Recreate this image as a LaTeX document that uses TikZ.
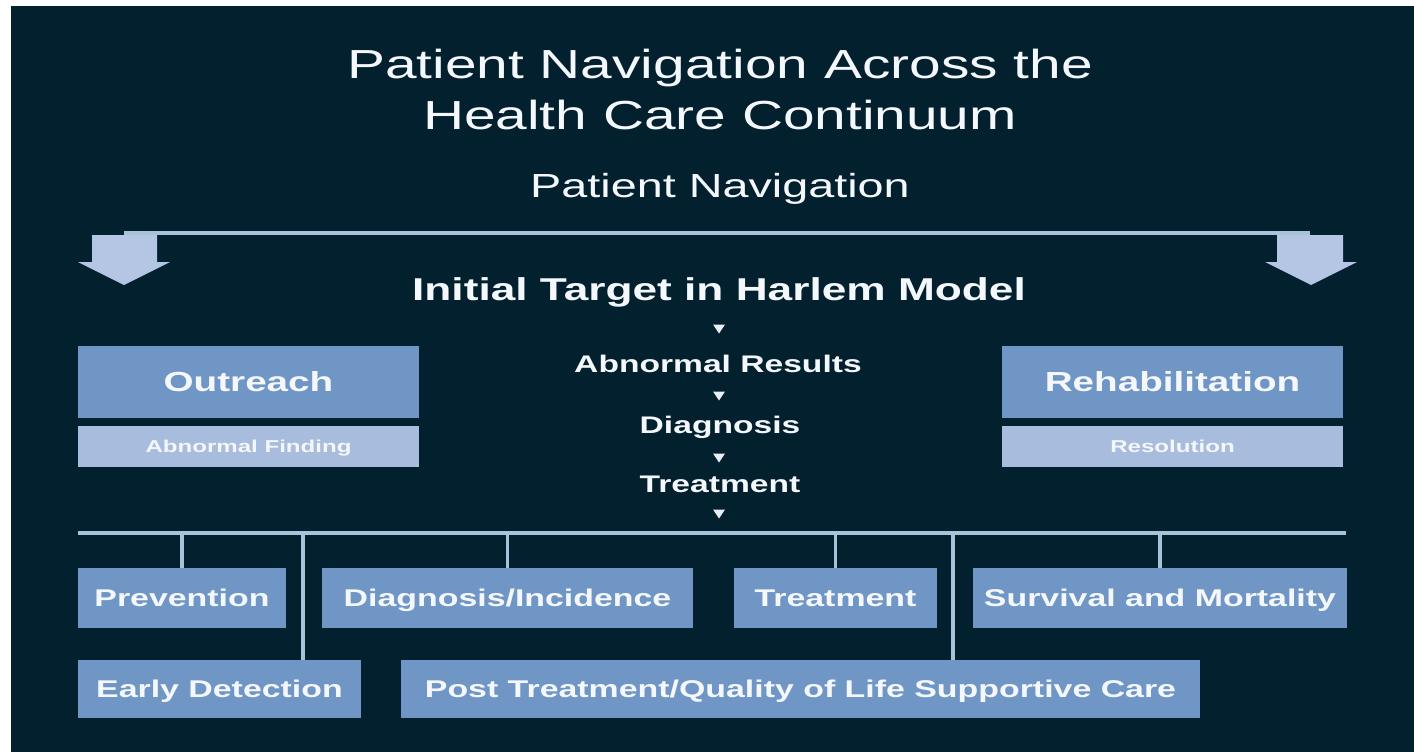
\documentclass[tikz,border=0pt]{standalone}
\usepackage{fontspec}
\setmainfont{Liberation Sans}[FakeStretch=1.4]
\begin{document}
\definecolor{bgc}{HTML}{02202E}
\definecolor{mainbox}{HTML}{7096C6}
\definecolor{subbox}{HTML}{A8BCDD}
\definecolor{linec}{HTML}{A9C2DC}
\definecolor{arrowc}{HTML}{B4C6E3}
\definecolor{txtc}{HTML}{F4F7FB}
\begin{tikzpicture}[x=1pt,y=-1pt,
  every node/.style={inner sep=0pt, outer sep=0pt, text=txtc},
  bigtitle/.style={anchor=base, font=\fontsize{40.6}{49}\selectfont},
  subtitle/.style={anchor=base, font=\fontsize{33.4}{40}\selectfont},
  steptext/.style={anchor=base, font=\fontsize{24}{28}\selectfont\bfseries},
  headbox/.style={fill=mainbox, minimum width=341pt, minimum height=72pt,
    text height=19.8pt, text depth=0pt, font=\fontsize{27.6}{32}\selectfont\bfseries},
  notebox/.style={fill=subbox, minimum width=341pt, minimum height=41pt,
    text height=12.4pt, text depth=0pt, font=\fontsize{17.2}{20}\selectfont\bfseries},
  stagebox/.style={fill=mainbox, minimum height=60pt,
    text height=17.2pt, text depth=0pt, font=\fontsize{24.2}{28}\selectfont\bfseries},
  bus/.style={draw=linec, line width=4pt},
  tick/.style={draw=linec, line width=3.5pt},
  downtri/.pic={\fill[txtc!85!linec] (-6,-4.5) -- (6,-4.5) -- (0,4.5) -- cycle;}
]
% page and dark panel
\fill[white] (0,0) rectangle (1414,752);
\fill[bgc] (11,6) rectangle (1414,752);

% headings
\node[bigtitle] (t1) at (720,79) {Patient Navigation Across the};
\node[bigtitle] (t2) at (720,129) {Health Care Continuum};
\node[subtitle] (t3) at (720,197) {Patient Navigation};

% span of navigation with its two end arrows
\coordinate (la) at (124,235);
\coordinate (ra) at (1310,235);
\draw[bus] ([yshift=2pt]la) -- ([yshift=2pt]ra);
\fill[arrowc] (92,235) -- (157,235) -- (157,262) -- (170,262) -- (124,285)
  -- (78,262) -- (92,262) -- cycle;
\fill[arrowc] (1277,235) -- (1343,235) -- (1343,262) -- (1357,262) -- (1311,285)
  -- (1265,262) -- (1277,262) -- cycle;

% central chain
\node[steptext, font=\fontsize{31.6}{36}\selectfont\bfseries] (init) at (719,300)
  {Initial Target in Harlem Model};
\pic at (719,329) {downtri};
\node[steptext] (abn) at (718,372) {Abnormal Results};
\pic at (719,396) {downtri};
\node[steptext] (diag) at (720,433) {Diagnosis};
\pic at (719,458) {downtri};
\node[steptext] (treat) at (720,492) {Treatment};
\pic at (719,514) {downtri};

% side boxes
\node[headbox] (out) at (248.5,382) {Outreach};
\node[notebox] (outn) at (248.5,446.5) {Abnormal Finding};
\node[headbox] (reh) at (1172.5,382) {Rehabilitation};
\node[notebox] (rehn) at (1172.5,446.5) {Resolution};

% stages of the continuum
\node[stagebox, minimum width=208pt] (prev) at (182,598) {Prevention};
\node[stagebox, minimum width=371pt] (dinc) at (507.5,598) {Diagnosis/Incidence};
\node[stagebox, minimum width=203pt] (trt) at (835.5,598) {Treatment};
\node[stagebox, minimum width=374pt] (surv) at (1160,598) {Survival and Mortality};
\node[stagebox, minimum width=283pt, minimum height=58pt] (early) at (219.5,689) {Early Detection};
\node[stagebox, minimum width=799pt, minimum height=58pt] (post) at (800.5,689)
  {Post Treatment/Quality of Life Supportive Care};

% bus line and drops
\coordinate (bl) at (78,533);
\coordinate (br) at (1346,533);
\draw[bus] (bl) -- (br);
\coordinate (dE) at (303,533);
\coordinate (dP) at (953,533);
\draw[tick] (prev.north |- bl) -- (prev.north);
\draw[tick] (dinc.north |- bl) -- (dinc.north);
\draw[tick] (trt.north |- bl) -- (trt.north);
\draw[tick] (surv.north |- bl) -- (surv.north);
\draw[tick] (dE) -- (dE |- early.north);
\draw[tick] (dP) -- (dP |- post.north);
\end{tikzpicture}
\end{document}
